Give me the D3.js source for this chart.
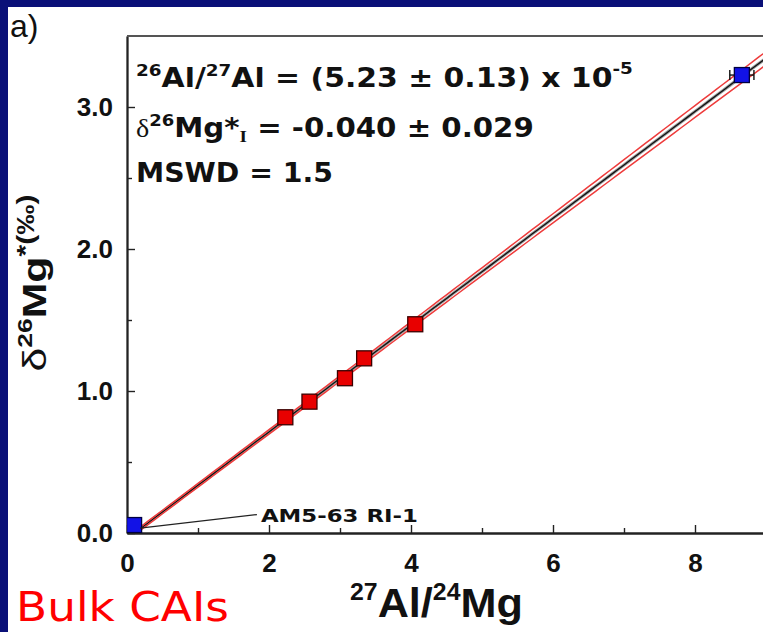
<!DOCTYPE html>
<html>
<head>
<meta charset="utf-8">
<script src="https://cdn.jsdelivr.net/npm/d3@7"></script>
<style>
  html, body { margin: 0; padding: 0; background: #0a1078; }
  svg { display: block; }
</style>
</head>
<body>
<div id="chart"></div>
<script>

// red squares are the bulk CAIs, blue squares the two end members
let caiAl = [2.23, 2.57, 3.07, 3.34, 4.06];
let caiMg = [0.815, 0.925, 1.09, 1.23, 1.47];
let refAl = [0.10, 8.66];
let refMg = [0.056, 3.225];
let refAlErr = [0.0, 0.17];

// isochron fit
let fitIntercept = -0.040;
let fitSlope = 0.376;          // permil per unit 27Al/24Mg
let envAtZero = 0.012;         // half width of the error envelope at x = 0
let envPerUnit = 0.005;        // growth of the envelope with x

let xMajor = [0, 2, 4, 6, 8];
let xMinor = [1, 3, 5, 7, 9];
let yMajor = [0, 1, 2, 3];
let yMinor = [0.5, 1.5, 2.5];

let W = 763, H = 632;

// squeeze a text horizontally to the width it has in the figure
function fitWidth(text, w, ox) {
  let bb = text.node().getBBox();
  let k = w / bb.width;
  if (ox === undefined) ox = bb.x;
  text.attr("transform", "translate(" + ox + ",0) scale(" + k + ",1) translate(" + (-ox) + ",0)");
}

let svg = d3.select("#chart").append("svg")
  .attr("width", W)
  .attr("height", H);

// navy slide background and white panel
svg.append("rect").attr("width", W).attr("height", H).attr("fill", "#0a1078");
svg.append("rect").attr("x", 8).attr("y", 7).attr("width", W - 8).attr("height", H - 7).attr("fill", "#ffffff");

let x = d3.scaleLinear().domain([0, 10]).range([127, 837]);
let y = d3.scaleLinear().domain([0, 3.5]).range([533, 36]);

svg.append("clipPath").attr("id", "plotClip")
  .append("rect")
  .attr("x", x(0)).attr("y", y(3.5))
  .attr("width", W - x(0)).attr("height", y(0) - y(3.5));

// axes
let axisFont = "'Liberation Sans', Arial, sans-serif";

svg.append("g")
  .attr("transform", "translate(0," + y(0) + ")")
  .call(d3.axisBottom(x).tickValues(xMajor).tickSize(-8).tickSizeOuter(0).tickPadding(21).tickFormat(d3.format("d")));
svg.append("g")
  .attr("transform", "translate(0," + y(0) + ")")
  .call(d3.axisBottom(x).tickValues(xMinor).tickSize(-5).tickSizeOuter(0).tickFormat(""));

svg.append("g")
  .attr("transform", "translate(" + x(0) + ",0)")
  .call(d3.axisLeft(y).tickValues(yMajor).tickSize(-8).tickSizeOuter(0).tickPadding(14).tickFormat(d3.format(".1f")));
svg.append("g")
  .attr("transform", "translate(" + x(0) + ",0)")
  .call(d3.axisLeft(y).tickValues(yMinor).tickSize(-5).tickSizeOuter(0).tickFormat(""));

svg.selectAll(".domain").attr("stroke", "#222").attr("stroke-width", 1.8);
svg.selectAll(".tick line").attr("stroke", "#222").attr("stroke-width", 1.4);
svg.selectAll(".tick text")
  .attr("font-family", axisFont)
  .attr("font-weight", "bold")
  .attr("font-size", 26)
  .attr("fill", "#111");

// top frame line
svg.append("line")
  .attr("x1", x(0)).attr("x2", W)
  .attr("y1", y(3.5)).attr("y2", y(3.5))
  .attr("stroke", "#555").attr("stroke-width", 2);

// isochron with its error envelope
let plot = svg.append("g").attr("clip-path", "url(#plotClip)");
let xs = d3.range(0.1, 10.001, 0.1);
function fitY(a) { return fitIntercept + fitSlope * a; }
function envY(a) { return Math.sqrt(envAtZero * envAtZero + (a * envPerUnit) * (a * envPerUnit)); }

let line = d3.line().x(function (d) { return x(d[0]); }).y(function (d) { return y(d[1]); });

plot.append("path")
  .attr("d", line(xs.map(function (a) { return [a, fitY(a)]; })))
  .attr("fill", "none").attr("stroke", "#9a9a9a").attr("stroke-width", 3.2);
plot.append("path")
  .attr("d", line(xs.map(function (a) { return [a, fitY(a)]; })))
  .attr("fill", "none").attr("stroke", "#111").attr("stroke-width", 1.3);
[1, -1].forEach(function (s) {
  plot.append("path")
    .attr("d", line(xs.map(function (a) { return [a, fitY(a) + s * envY(a)]; })))
    .attr("fill", "none").attr("stroke", "#ee3b3b").attr("stroke-width", 1.5);
});

// horizontal error bars of the reference points
refAl.forEach(function (a, i) {
  if (refAlErr[i] <= 0) return;
  let g = plot.append("g").attr("stroke", "#111").attr("stroke-width", 1.4);
  g.append("line")
    .attr("x1", x(a - refAlErr[i])).attr("x2", x(a + refAlErr[i]))
    .attr("y1", y(refMg[i])).attr("y2", y(refMg[i]));
  [a - refAlErr[i], a + refAlErr[i]].forEach(function (e) {
    g.append("line")
      .attr("x1", x(e)).attr("x2", x(e))
      .attr("y1", y(refMg[i]) - 5).attr("y2", y(refMg[i]) + 5);
  });
});

// markers
let size = 15;
let caiData = caiAl.map(function (a, i) { return { al: a, mg: caiMg[i] }; });
let refData = refAl.map(function (a, i) { return { al: a, mg: refMg[i] }; });

plot.selectAll(".cai")
  .data(caiData)
  .enter().append("rect")
  .attr("class", "cai")
  .attr("x", function (d) { return x(d.al) - size / 2; })
  .attr("y", function (d) { return y(d.mg) - size / 2; })
  .attr("width", size).attr("height", size)
  .attr("fill", "#e80000").attr("stroke", "#3a0000").attr("stroke-width", 1.3);

plot.selectAll(".ref")
  .data(refData)
  .enter().append("rect")
  .attr("class", "ref")
  .attr("x", function (d) { return x(d.al) - size / 2; })
  .attr("y", function (d) { return y(d.mg) - size / 2; })
  .attr("width", size).attr("height", size)
  .attr("fill", "#1212e6").attr("stroke", "#000040").attr("stroke-width", 1.3);

// label for the low blue point
let labelAl = 1.83, labelMg = 0.13;
svg.append("line")
  .attr("x1", x(refAl[0]) + 6).attr("y1", y(refMg[0]) + 3)
  .attr("x2", x(labelAl)).attr("y2", y(labelMg))
  .attr("stroke", "#222").attr("stroke-width", 1.2);
let amLabel = svg.append("text")
  .attr("x", x(labelAl) + 4).attr("y", y(labelMg) + 7)
  .attr("font-family", "'DejaVu Sans', Verdana, sans-serif")
  .attr("font-weight", "bold").attr("font-size", 17).attr("fill", "#111")
  .text("AM5-63 RI-1");
fitWidth(amLabel, 157);

// fit results in the upper left corner
let boldFont = "'DejaVu Sans', Verdana, sans-serif";
let tx = 136;

let t1 = svg.append("text").attr("x", tx).attr("y", 87)
  .attr("font-family", boldFont).attr("font-weight", "bold").attr("font-size", 26).attr("fill", "#111");
t1.append("tspan").attr("font-size", 16).attr("dy", -11).text("26");
t1.append("tspan").attr("dy", 11).text("Al/");
t1.append("tspan").attr("font-size", 16).attr("dy", -11).text("27");
t1.append("tspan").attr("dy", 11).text("Al = (5.23 ± 0.13) x 10");
t1.append("tspan").attr("font-size", 16).attr("dy", -13).text("-5");
fitWidth(t1, 497);

let t2 = svg.append("text").attr("x", tx).attr("y", 137)
  .attr("font-family", boldFont).attr("font-weight", "bold").attr("font-size", 26).attr("fill", "#111");
t2.append("tspan").attr("font-family", "'Liberation Serif', serif").attr("font-weight", "normal").attr("font-size", 25).text("δ");
t2.append("tspan").attr("font-size", 16).attr("dy", -11).text("26");
t2.append("tspan").attr("dy", 11).text("Mg*");
t2.append("tspan").attr("font-family", "'Liberation Serif', serif").attr("font-size", 17).attr("dy", 5).text("I");
t2.append("tspan").attr("dy", -5).text(" = -0.040 ± 0.029");
fitWidth(t2, 398);

let t3 = svg.append("text").attr("x", tx).attr("y", 182)
  .attr("font-family", boldFont).attr("font-weight", "bold").attr("font-size", 26).attr("fill", "#111")
  .text("MSWD = 1.5");
fitWidth(t3, 197);

// axis titles
let xTitle = svg.append("text").attr("x", 350).attr("y", 617)
  .attr("font-family", axisFont).attr("font-weight", "bold").attr("font-size", 40).attr("fill", "#111");
xTitle.append("tspan").attr("font-size", 23).attr("dy", -17).text("27");
xTitle.append("tspan").attr("dy", 17).text("Al/");
xTitle.append("tspan").attr("font-size", 23).attr("dy", -17).text("24");
xTitle.append("tspan").attr("dy", 17).text("Mg");
fitWidth(xTitle, 173);

let yTitleG = svg.append("g").attr("transform", "translate(46,283) rotate(-90)");
let yTitle = yTitleG.append("text").attr("x", 0).attr("y", 0)
  .attr("text-anchor", "middle")
  .attr("font-family", axisFont).attr("font-weight", "bold").attr("font-size", 34).attr("fill", "#111");
yTitle.append("tspan").attr("font-weight", "normal").text("δ");
yTitle.append("tspan").attr("font-size", 21).attr("dy", -14).text("26");
yTitle.append("tspan").attr("dy", 14).text("Mg");
yTitle.append("tspan").attr("font-size", 24).attr("dy", -12).text("*(‰)");
fitWidth(yTitle, 177, 0);

// panel letter and slide caption
svg.append("text").attr("x", 10).attr("y", 37)
  .attr("font-family", axisFont).attr("font-size", 32).attr("fill", "#111")
  .text("a)");

let caption = svg.append("text").attr("x", 16).attr("y", 621)
  .attr("font-family", "'DejaVu Sans', sans-serif").attr("font-size", 40).attr("fill", "#ff0000")
  .text("Bulk CAIs");
fitWidth(caption, 213);

</script>
</body>
</html>
